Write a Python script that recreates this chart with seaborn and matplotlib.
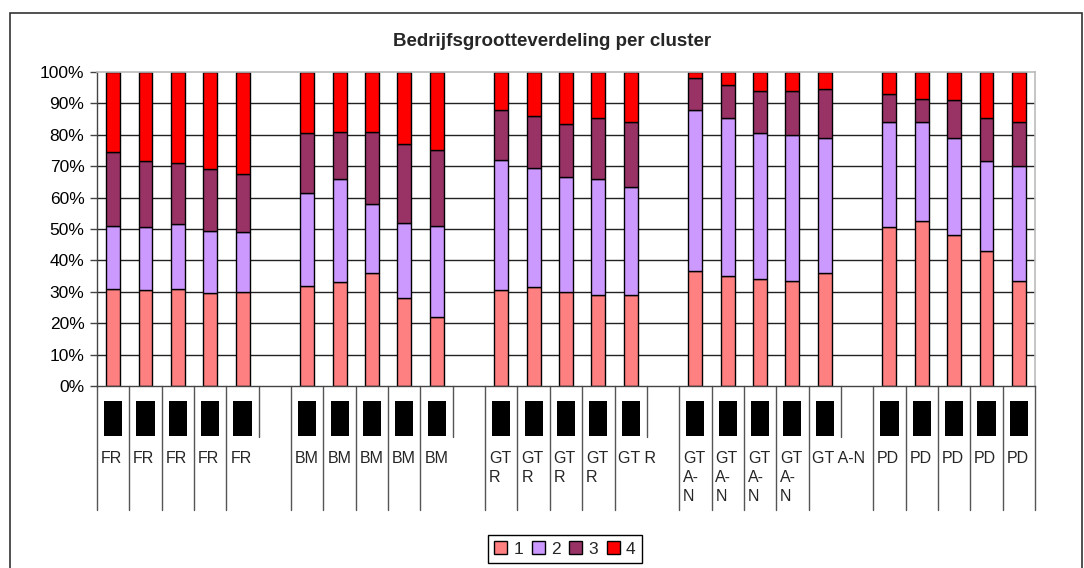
import matplotlib
matplotlib.use("Agg")
import matplotlib.pyplot as plt
import seaborn as sns
import pandas as pd
import numpy as np
from matplotlib.patches import Patch, Rectangle
from matplotlib.transforms import blended_transform_factory

sns.set_theme(style="white")
plt.rcParams['font.family'] = ['Liberation Sans', 'DejaVu Sans']

# ---- data (percent shares) ----
clusters = ['FR', 'BM', 'GT R', 'GT A-N', 'PD']
bars_per_cluster = 5
size_classes = ['1', '2', '3', '4']
class_colors = ['#FF8080', '#CC99FF', '#993366', '#FF0000']

share_1 = [31, 30.5, 31, 29.5, 30,
           32, 33, 36, 28, 22,
           30.5, 31.5, 30, 29, 29,
           36.5, 35, 34, 33.5, 36,
           50.5, 52.5, 48, 43, 33.5]
share_2 = [20, 20, 20.5, 20, 19,
           29.5, 33, 22, 24, 29,
           41.5, 38, 36.5, 37, 34.5,
           51.5, 50.5, 46.5, 46.5, 43,
           33.5, 31.5, 31, 28.5, 36.5]
share_3 = [23.5, 21, 19.5, 19.5, 18.5,
           19, 15, 23, 25, 24,
           16, 16.5, 17, 19.5, 20.5,
           10, 10.5, 13.5, 14, 15.5,
           9, 7.5, 12, 14, 14]
share_4 = [25.5, 28.5, 29, 31, 32.5,
           19.5, 19, 19, 23, 25,
           12, 14, 16.5, 14.5, 16,
           2, 4, 6, 6, 5.5,
           7, 8.5, 9, 14.5, 16]

title = 'Bedrijfsgrootteverdeling per cluster'
y_ticks = [0, 10, 20, 30, 40, 50, 60, 70, 80, 90, 100]

# ---- build long table ----
slot = bars_per_cluster + 1
positions = [ci * slot + j for ci in range(len(clusters)) for j in range(bars_per_cluster)]
rows = []
for k, p in enumerate(positions):
    for cls, vals in zip(size_classes, [share_1, share_2, share_3, share_4]):
        rows.append({'pos': p, 'klasse': cls, 'pct': vals[k]})
df = pd.DataFrame(rows)
n_slots = len(clusters) * slot - 1

W, H = 1084, 568
fig = plt.figure(figsize=(W / 100, H / 100), dpi=100)
fig.patch.set_facecolor('white')
ax = fig.add_axes([97 / W, 1 - 386 / H, 938 / W, 314 / H])

palette = dict(zip(size_classes, class_colors))
sns.histplot(data=df, x='pos', hue='klasse', weights='pct', multiple='stack',
             discrete=True, shrink=0.43, hue_order=size_classes[::-1],
             palette=palette, alpha=1, edgecolor='black', linewidth=1.0,
             legend=False, ax=ax)
# hide empty bins (gap slots between clusters)
for patch in ax.patches:
    if patch.get_height() == 0:
        patch.set_visible(False)

ax.set_xlim(-0.5, n_slots - 0.5)
ax.set_ylim(0, 100)
ax.set_xticks([])
ax.set_xlabel('')
ax.set_ylabel('')
ax.set_yticks(y_ticks)
ax.set_yticklabels([f'{t}%' for t in y_ticks], fontsize=12.5, color='black')
ax.tick_params(axis='y', direction='out', length=5, width=1, color='#444444', pad=4, left=True)
for t in y_ticks[1:-1]:
    ax.axhline(t, color='#222222', lw=1, zorder=0.5)
for side in ['top', 'right']:
    ax.spines[side].set_color('#BBBBBB')
    ax.spines[side].set_linewidth(1.2)
for side in ['left', 'bottom']:
    ax.spines[side].set_color('#444444')
    ax.spines[side].set_linewidth(1)
ax.set_facecolor('white')

fig.text(552 / W, 1 - 42 / H, title, ha='center', va='center',
         fontsize=13.5, fontweight='bold')

# ---- multi-level category axis below plot ----
tr = blended_transform_factory(ax.transData, fig.transFigure)
def fy(py):
    return 1 - py / H

y_top = fy(386)
y_long = fy(510)
y_short = fy(437)
for b in range(n_slots + 1):
    x = b - 0.5
    is_short = (b % slot == bars_per_cluster) and b != n_slots
    ax.add_line(plt.Line2D([x, x], [y_top, y_short if is_short else y_long],
                           transform=tr, color='#555555', lw=1.0, clip_on=False))

# year labels (illegible black blocks in the original)
blob_w = 0.56
for p in positions:
    ax.add_patch(Rectangle((p - blob_w / 2, fy(436)), blob_w, fy(401) - fy(436),
                           transform=tr, facecolor='black', edgecolor='none', clip_on=False))

# cluster labels
for ci, name in enumerate(clusters):
    for j in range(bars_per_cluster):
        p = ci * slot + j
        wide = (j == bars_per_cluster - 1) and ci != len(clusters) - 1
        label = name if wide else name.replace('-', '-\n').replace(' ', '\n')
        ax.text(p - 0.5 + 0.12, fy(451), label, transform=tr, ha='left', va='top',
                fontsize=11.5, linespacing=1.35, clip_on=False)

# outer frame
fig.patches.append(Rectangle((10 / W, -0.02), (1082 - 10) / W, fy(13) + 0.02,
                             transform=fig.transFigure, facecolor='none',
                             edgecolor='#333333', lw=1.2))

handles = [Patch(facecolor=c, edgecolor='black', lw=1) for c in class_colors]
fig.legend(handles, size_classes, loc='center', bbox_to_anchor=(565 / W, fy(549)),
           ncol=4, fontsize=12.5, frameon=True, fancybox=False, edgecolor='black',
           framealpha=1, handlelength=0.75, handleheight=0.75, handletextpad=0.35,
           columnspacing=0.5, borderpad=0.35, borderaxespad=0)

fig.savefig('out.png', dpi=100, facecolor='white')
